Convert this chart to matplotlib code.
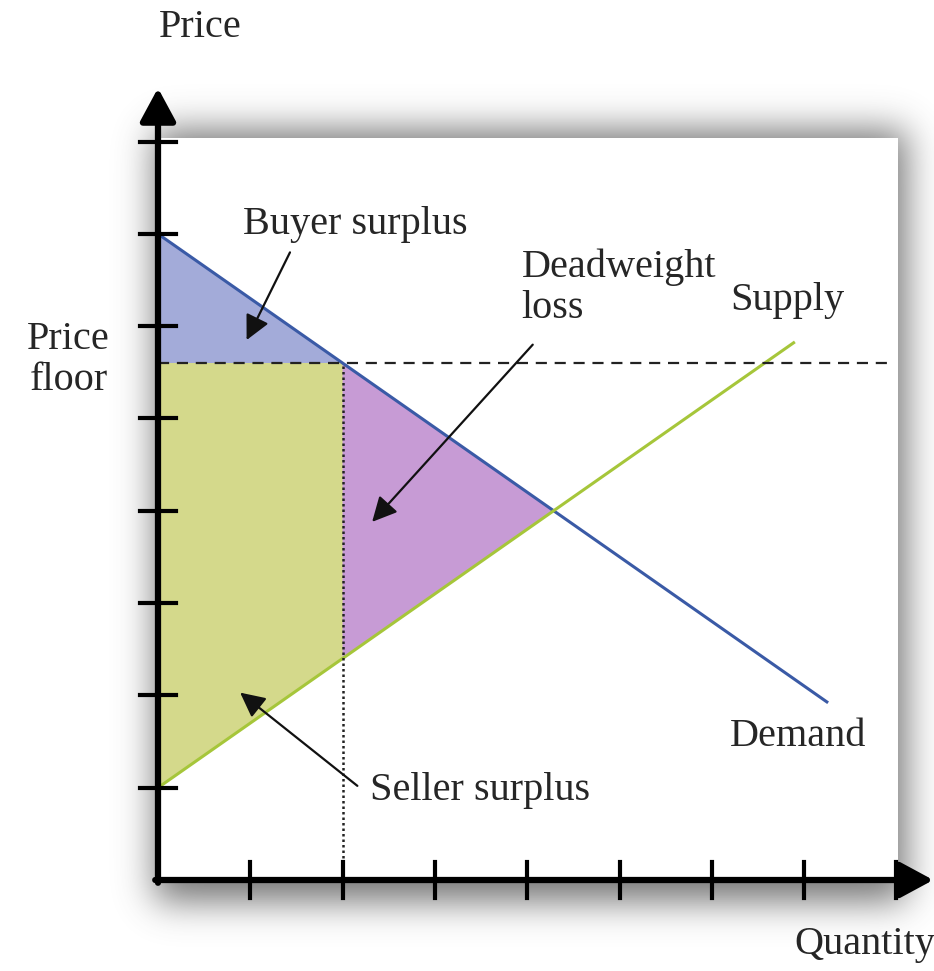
"""Price floor diagram: buyer/seller surplus and deadweight loss."""

import numpy as np
import matplotlib.pyplot as plt
from matplotlib.patches import Polygon, Rectangle

plt.rcParams["font.family"] = ["Liberation Serif", "DejaVu Serif"]

# demand P = 7 - 0.7Q, supply P = 1 + 0.7Q
demand_q = [0.0, 7.26]
demand_p = [7.0, 1.92]
supply_q = [0.0, 6.9]
supply_p = [1.0, 5.83]
price_floor = 5.6
q_floor = 2.0          # quantity demanded at the floor
p_supply_at_floor = 2.4
q_eq, p_eq = 4.286, 4.0

x_ticks = [1, 2, 3, 4, 5, 6, 7, 8]
y_ticks = [1, 2, 3, 4, 5, 6, 7, 8]

BLUE_LINE = "#3a5aa6"
GREEN_LINE = "#a6c63a"
BUYER_FILL = "#a3abd9"
SELLER_FILL = "#d4d98b"
DWL_FILL = "#c79bd5"
TEXT = "#262626"

# pixel -> data mapping: origin at (158, 880), 92.3 px per unit
W, H = 934, 971
ox, oy, u = 158, 880, 92.3
xlim = (-ox / u, (W - ox) / u)
ylim = ((oy - H) / u, oy / u)

fig = plt.figure(figsize=(W / 100, H / 100), dpi=100)
ax = fig.add_axes([0, 0, 1, 1])
ax.set_xlim(*xlim)
ax.set_ylim(*ylim)
ax.axis("off")

# soft drop shadow behind the white panel
panel = (0.0, 0.0, 8.02, 8.04)
gx = np.linspace(xlim[0], xlim[1], 470)
gy = np.linspace(ylim[0], ylim[1], 490)
XX, YY = np.meshgrid(gx, gy)
mask = ((XX > panel[0] - 0.05) & (XX < panel[2] + 0.1) &
        (YY > panel[1] - 0.25) & (YY < panel[3] + 0.08)).astype(float)
k = np.exp(-0.5 * (np.arange(-30, 31) / 9.0) ** 2)
k /= k.sum()
blur = np.apply_along_axis(lambda r: np.convolve(r, k, mode="same"), 1, mask)
blur = np.apply_along_axis(lambda c: np.convolve(c, k, mode="same"), 0, blur)
rgba = np.zeros(blur.shape + (4,))
rgba[..., :3] = 0.33
rgba[..., 3] = blur * 0.8
ax.imshow(rgba, extent=(xlim[0], xlim[1], ylim[0], ylim[1]), origin="lower",
          aspect="auto", zorder=0, interpolation="bilinear")
ax.add_patch(Rectangle((panel[0], panel[1]), panel[2] - panel[0], panel[3] - panel[1],
                       facecolor="white", edgecolor="none", zorder=1))

# surplus regions
ax.add_patch(Polygon([(0, demand_p[0]), (0, price_floor), (q_floor, price_floor)],
                     closed=True, facecolor=BUYER_FILL, edgecolor="none", zorder=2))
ax.add_patch(Polygon([(0, supply_p[0]), (0, price_floor), (q_floor, price_floor),
                      (q_floor, p_supply_at_floor)],
                     closed=True, facecolor=SELLER_FILL, edgecolor="none", zorder=2))
ax.add_patch(Polygon([(q_floor, price_floor), (q_floor, p_supply_at_floor), (q_eq, p_eq)],
                     closed=True, facecolor=DWL_FILL, edgecolor="none", zorder=2))

# curves
ax.plot(demand_q, demand_p, color=BLUE_LINE, lw=2.2, zorder=3, solid_capstyle="butt")
ax.plot(supply_q, supply_p, color=GREEN_LINE, lw=2.2, zorder=3, solid_capstyle="butt")

# price floor and quantity guide lines
ax.plot([0, 7.93], [price_floor, price_floor], color="#222222", lw=1.6,
        dashes=(5, 3.5), zorder=4)
ax.plot([q_floor, q_floor], [0, price_floor], color="#222222", lw=1.8,
        linestyle=(0, (1, 1.2)), zorder=4)

# axes with arrows
axis_kw = dict(arrowstyle="-|>,head_length=0.63,head_width=0.34", lw=4.5,
               color="black", mutation_scale=32, shrinkA=0, shrinkB=0)
ax.annotate("", xy=(0, 8.58), xytext=(0, -0.03), arrowprops=axis_kw, zorder=6)
ax.annotate("", xy=(8.4, 0), xytext=(-0.03, 0), arrowprops=axis_kw, zorder=6)
tl = 0.19
for t in x_ticks:
    ax.plot([t, t], [-tl, tl], color="black", lw=3, zorder=6)
for t in y_ticks:
    ax.plot([-tl, tl], [t, t], color="black", lw=3, zorder=6)

# labels
fs = 29
ax.text(0.455, 9.24, "Price", fontsize=fs, ha="center", va="center", color=TEXT)
ax.text(-0.97, 5.63, "Price\nfloor", fontsize=fs, ha="center", va="center",
        linespacing=1.15, color=TEXT)
ax.text(0.92, 7.10, "Buyer surplus", fontsize=fs, ha="left", va="center", color=TEXT)
ax.text(3.94, 6.42, "Deadweight\nloss", fontsize=fs, ha="left", va="center",
        linespacing=1.15, color=TEXT)
ax.text(6.20, 6.28, "Supply", fontsize=fs, ha="left", va="center", color=TEXT)
ax.text(6.20, 1.55, "Demand", fontsize=fs, ha="left", va="center", color=TEXT)
ax.text(2.30, 0.975, "Seller surplus", fontsize=fs, ha="left", va="center", color=TEXT)
ax.text(6.90, -0.70, "Quantity", fontsize=fs, ha="left", va="center", color=TEXT)

# pointer arrows
arrow_kw = dict(arrowstyle="-|>,head_length=0.5,head_width=0.25", lw=1.6,
                color="#111111", mutation_scale=30, shrinkA=0, shrinkB=0)
ax.annotate("", xy=(0.96, 5.85), xytext=(1.43, 6.80), arrowprops=arrow_kw, zorder=7)
ax.annotate("", xy=(2.32, 3.88), xytext=(4.06, 5.80), arrowprops=arrow_kw, zorder=7)
ax.annotate("", xy=(0.89, 2.03), xytext=(2.16, 1.02), arrowprops=arrow_kw, zorder=7)

fig.savefig("out.png", dpi=100)
